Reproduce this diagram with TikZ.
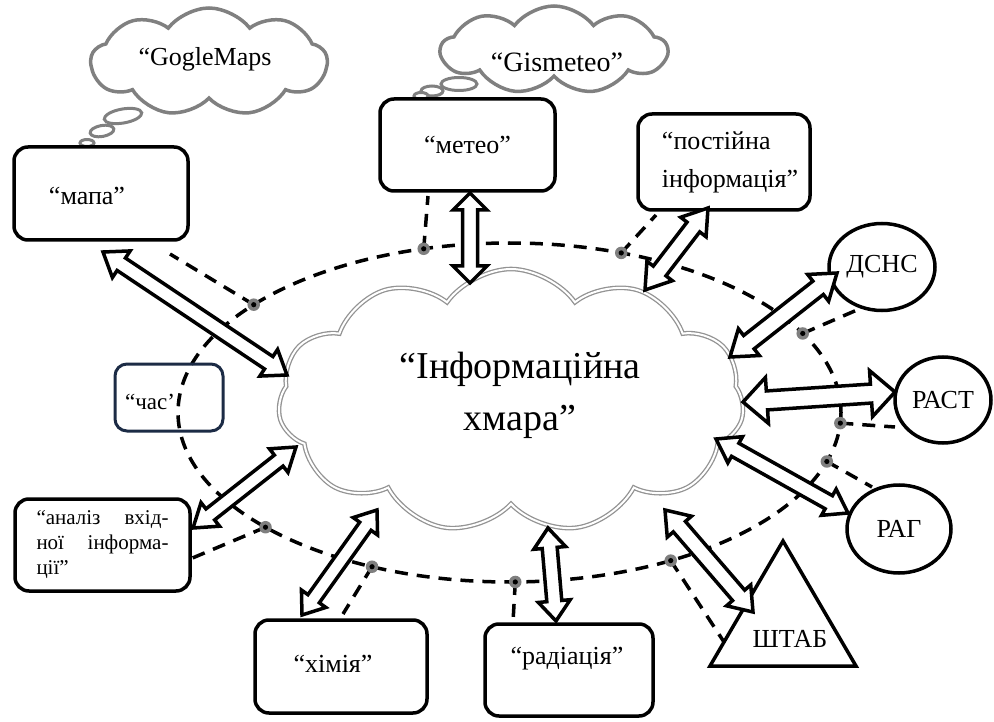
\documentclass[tikz,border=0pt]{standalone}
\usepackage{fontspec}
\setmainfont{Liberation Serif}
\usetikzlibrary{shapes.symbols,shapes.geometric,calc}
\definecolor{cloudgray}{HTML}{808080}
\definecolor{dotgray}{HTML}{7F7F7F}
\definecolor{navyline}{HTML}{1C2B45}
\newcommand\txtbig{\fontsize{26}{38}\selectfont}
\newcommand\dblarrow[5]{%
 \draw[blockarrow] (#1)
 -- ($($(#1)!#3pt!(#2)$)!#4pt!90:(#2)$)
 -- ($($(#1)!#3pt!(#2)$)!#5pt!90:(#2)$)
 -- ($($(#2)!#3pt!(#1)$)!#5pt!-90:(#1)$)
 -- ($($(#2)!#3pt!(#1)$)!#4pt!-90:(#1)$)
 -- (#2)
 -- ($($(#2)!#3pt!(#1)$)!#4pt!90:(#1)$)
 -- ($($(#2)!#3pt!(#1)$)!#5pt!90:(#1)$)
 -- ($($(#1)!#3pt!(#2)$)!#5pt!-90:(#2)$)
 -- ($($(#1)!#3pt!(#2)$)!#4pt!-90:(#2)$)
 -- cycle;}
\tikzset{
 box/.style={draw, line width=3.5pt, rounded corners=14pt, fill=white, inner sep=0pt, font=\txtbig},
 ell/.style={draw, ellipse, line width=3.5pt, fill=white, inner sep=0pt, font=\txtbig},
 lbl/.style={inner sep=0pt, font=\txtbig},
 dashline/.style={line width=3.5pt, dash pattern=on 13pt off 9pt},
 blockarrow/.style={draw, line width=3.5pt, fill=white, line join=miter},
 thought/.style={cloud, cloud puffs=9, cloud puff arc=105, draw=cloudgray, line width=3.5pt, fill=white, inner sep=0pt},
 bubble/.style={draw=cloudgray, line width=3pt, fill=white},
 dotn/.style={circle, fill=dotgray, minimum size=12.5pt, inner sep=0pt,
   path picture={\fill[black] (path picture bounding box.center) circle (2.6pt);}},
}
\begin{document}
\begin{tikzpicture}[x=1pt,y=-1pt]
\useasboundingbox (0,0) rectangle (994,722);
% ellipse and dots positions
\coordinate (E) at (509.5,412.5);
\draw[dashline] (E) ellipse [x radius=331.5, y radius=169.5];
\coordinate (d1) at ($(E)+(219.5:331.5 and 169.5)$);
\coordinate (d2) at ($(E)+(255:331.5 and 169.5)$);
\coordinate (d3) at ($(E)+(289.7:331.5 and 169.5)$);
\coordinate (d4) at ($(E)+(332.2:331.5 and 169.5)$);
\coordinate (d5) at ($(E)+(3.6:331.5 and 169.5)$);
\coordinate (d6) at ($(E)+(16.8:331.5 and 169.5)$);
\coordinate (d7) at ($(E)+(137.4:331.5 and 169.5)$);
\coordinate (d8) at ($(E)+(114.5:331.5 and 169.5)$);
\coordinate (d9) at ($(E)+(89:331.5 and 169.5)$);
\coordinate (d10) at ($(E)+(60.9:331.5 and 169.5)$);
% connector ends
\coordinate (e1) at (170,254);
\coordinate (e2) at (428,196);
\coordinate (e3) at (656,215);
\coordinate (e4) at (857,310);
\coordinate (e5) at (895,427);
\coordinate (e6) at (872,487);
\coordinate (e7) at (183,562);
\coordinate (e8) at (343,614);
\coordinate (e9) at (513,622);
\coordinate (e10) at (724,642);
\foreach \i in {1,...,10} {\draw[dashline] (d\i) -- (e\i);}
% time box (unfilled, ellipse shows through)
\node[draw=navyline, line width=3pt, rounded corners=12pt, minimum width=108pt, minimum height=67pt] (chas) at (169,397.5) {};
\node[lbl, font=\fontsize{23}{28}\selectfont] (chastxt) at (150,402) {“час’};
% thought clouds
\node[thought, minimum width=236pt, minimum height=108pt] (gmaps) at (209,62) {};
\node[lbl] (gmapstxt) at (205,59) {“GogleMaps};
\draw[bubble, rotate around={10:(123,116)}] (123,116) ellipse [x radius=19, y radius=7];
\draw[bubble, rotate around={10:(102,131)}] (102,131) ellipse [x radius=12, y radius=5.5];
\draw[bubble] (87,143) ellipse [x radius=7, y radius=3.5];
\node[thought, minimum width=226pt, minimum height=88pt] (gis) at (554,50) {};
\node[lbl, font=\fontsize{28}{32}\selectfont] (gistxt) at (557,62) {“Gismeteo”};
\draw[bubble] (459,84) ellipse [x radius=18, y radius=6.5];
\draw[bubble] (432,91) ellipse [x radius=11, y radius=5];
\draw[bubble] (421,96) ellipse [x radius=7, y radius=3.5];
% boxes
\node[box, minimum width=174pt, minimum height=93pt] (mapa) at (101,193.5) {};
\node[lbl] (mapatxt) at (87,196) {“мапа”};
\node[box, minimum width=175pt, minimum height=92pt] (meteo) at (467.5,145) {“метео”};
\node[box, minimum width=172pt, minimum height=96pt] (postiy) at (724,162) {};
\node[lbl, align=left] (postiytxt) at (730,162) {“постійна\\інформація”};
\node[box, minimum width=168pt, minimum height=92pt] (rad) at (569,670) {};
\node[lbl] (radtxt) at (567,659) {“радіація”};
\node[box, minimum width=172pt, minimum height=93pt] (khim) at (341,666.5) {};
\node[lbl] (khimtxt) at (333,664) {“хімія”};
\node[box, minimum width=175pt, minimum height=92pt, font=\fontsize{21}{25}\selectfont] (analiz) at (102.5,545)
 {\parbox{132pt}{“аналіз\hfill вхід-\\ної\hfill інформа-\\ції”}};
% ellipses
\node[ell, minimum width=106pt, minimum height=87pt] (dsns) at (882,267) {ДСНС};
\node[ell, minimum width=96pt, minimum height=86pt] (rast) at (943,400) {РАСТ};
\node[ell, minimum width=104pt, minimum height=88pt] (rag) at (899,529) {РАГ};
% triangle
\coordinate (tA) at (783,541);
\coordinate (tB) at (710,666);
\coordinate (tC) at (856,666);
\draw[line width=3.5pt, fill=white, line join=miter] (tA) -- (tB) -- (tC) -- cycle;
\node[lbl] (shtab) at (790,639) {ШТАБ};
% central cloud
\node[cloud, cloud puffs=11, cloud puff arc=110, draw=cloudgray!85, double=white, double distance=2pt, line width=1.3pt,
  fill=white, inner sep=0pt, minimum width=466pt, minimum height=264pt] (cl) at (511,401) {};
\node[lbl, align=center, font=\fontsize{38}{52}\selectfont] (cltxt) at (520,395) {“Інформаційна\\хмара”};
% arrow ends
\coordinate (a1s) at (103,252);  \coordinate (a1e) at (287,375);
\coordinate (a2s) at (470,193);  \coordinate (a2e) at (470,283);
\coordinate (a3s) at (708,208);  \coordinate (a3e) at (645,290);
\coordinate (a4s) at (837,273);  \coordinate (a4e) at (730,357);
\coordinate (a5s) at (895,392);  \coordinate (a5e) at (743,402);
\coordinate (a6s) at (716,439);  \coordinate (a6e) at (848,513);
\coordinate (a7s) at (665,510);  \coordinate (a7e) at (753,612);
\coordinate (a8s) at (548,528);  \coordinate (a8e) at (556,621);
\coordinate (a9s) at (377,510);  \coordinate (a9e) at (302,615);
\coordinate (a10s) at (296,447); \coordinate (a10e) at (193,528);
\dblarrow{a1s}{a1e}{22}{16}{7.5}
\dblarrow{a2s}{a2e}{17}{17}{7.5}
\dblarrow{a3s}{a3e}{24}{16}{8}
\dblarrow{a4s}{a4e}{24}{17}{8.5}
\dblarrow{a5s}{a5e}{24}{23}{9.5}
\dblarrow{a6s}{a6e}{22}{15}{7.5}
\dblarrow{a7s}{a7e}{22}{16}{8}
\dblarrow{a8s}{a8e}{20}{16}{7.5}
\dblarrow{a9s}{a9e}{20}{15}{7}
\dblarrow{a10s}{a10e}{22}{15}{7}
% dots
\foreach \i in {1,...,10} {\node[dotn] (n\i) at (d\i) {};}
\end{tikzpicture}
\end{document}
